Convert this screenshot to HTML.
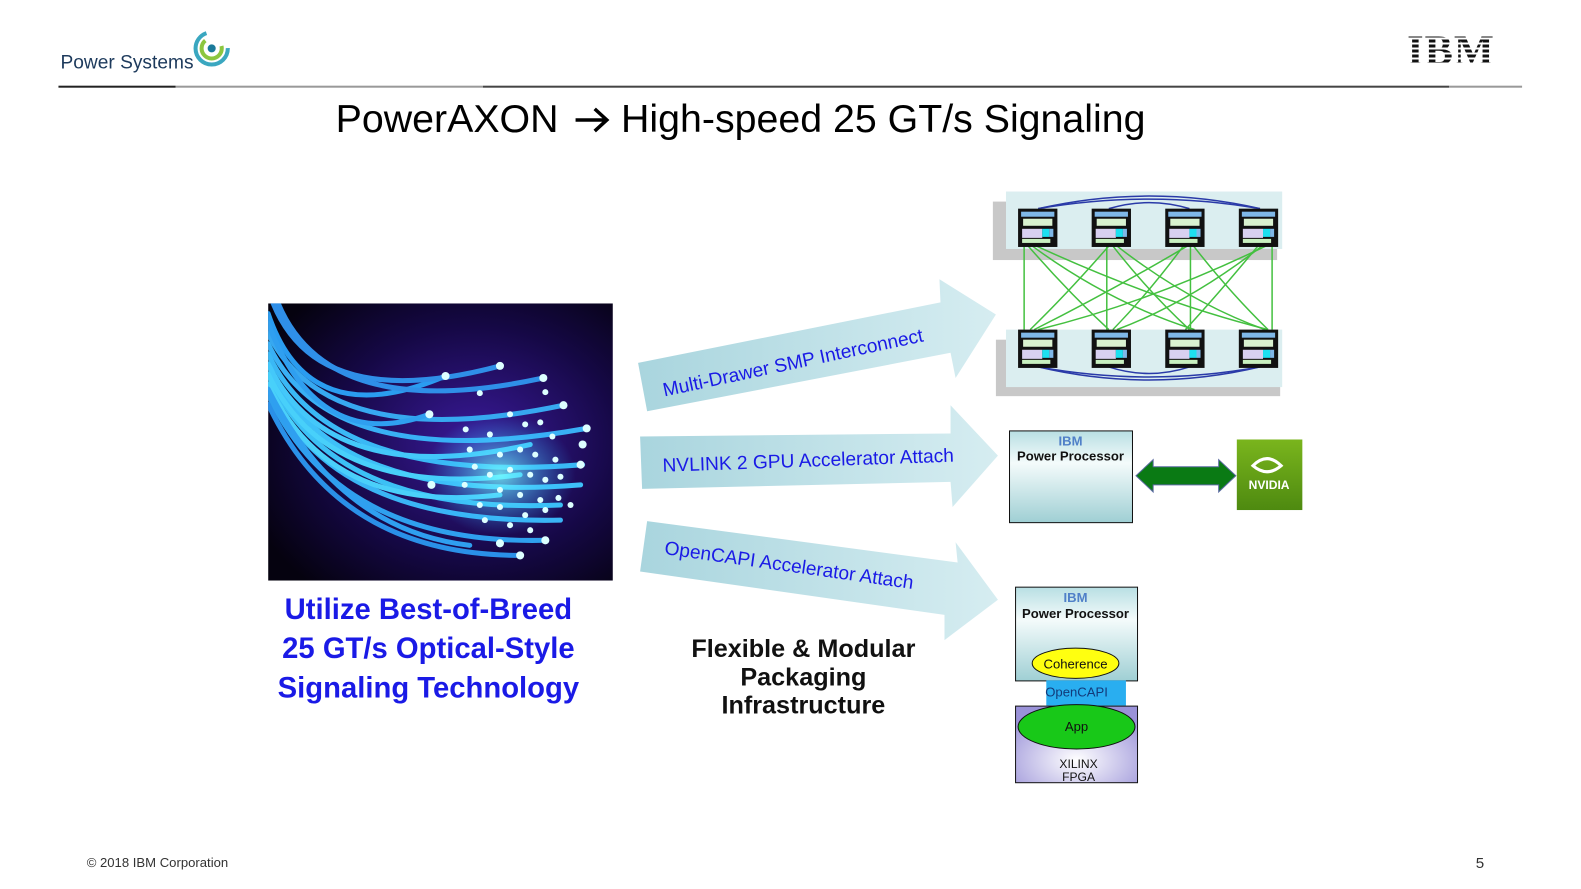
<!DOCTYPE html>
<html style="overflow:hidden"><head><meta charset="utf-8"><style>
html,body{margin:0;overflow:hidden}
body{width:1581px;height:889px;background:#fff;position:relative;font-family:"Liberation Sans",sans-serif}
#w{position:absolute;left:0;top:0;width:1581px;height:889px;transform:scale(1.008);transform-origin:0 0}
.a{position:absolute}
</style></head><body><div id="w">
<div class="a" style="left:60px;top:52px;font-size:19px;color:#1d3a5c">Power Systems</div>
<svg class="a" style="left:190px;top:28px" width="42" height="42" viewBox="0 0 42 42">
<circle cx="20" cy="20" r="16" fill="none" stroke="#3aa7c0" stroke-width="4" stroke-dasharray="70 30"/>
<circle cx="20" cy="20" r="10" fill="none" stroke="#8cc63f" stroke-width="4" stroke-dasharray="40 20"/>
<circle cx="20" cy="20" r="4" fill="#1a7a9a"/></svg>
<div class="a" style="left:1396px;top:30px;font:bold 42px 'Liberation Serif',serif;color:#111;letter-spacing:1px;line-height:42px">IBM</div>
<div class="a" style="left:1394px;top:32px;width:90px;height:40px;background:repeating-linear-gradient(#fff 0 2px,transparent 2px 5px)"></div>
<div class="a" style="left:58px;top:85px;width:1452px;height:2px;background:linear-gradient(90deg,#222 0 8%,#999 8% 29%,#444 29% 95%,#999 95%)"></div>
<div class="a" style="left:333px;top:97px;font-size:39px;color:#000;white-space:nowrap">PowerAXON<span style="display:inline-block;width:62px"></span>High-speed 25 GT/s Signaling</div>
<svg class="a" style="left:568px;top:104px" width="40" height="30"><path d="M3,15 H34 M22,4 L34,15 L22,26" fill="none" stroke="#000" stroke-width="3.5"/></svg>

<svg class="a" style="left:266px;top:301px" width="342" height="275" viewBox="0 0 342 275">
<defs><radialGradient id="bg" cx="0.6" cy="0.5" r="0.7"><stop offset="0" stop-color="#3a1a9a"/><stop offset="0.6" stop-color="#150845"/><stop offset="1" stop-color="#05020f"/></radialGradient>
<radialGradient id="gl" cx="0.5" cy="0.5" r="0.5"><stop offset="0" stop-color="#7ff" stop-opacity="0.8"/><stop offset="1" stop-color="#2af" stop-opacity="0"/></radialGradient></defs>
<rect width="342" height="275" fill="url(#bg)"/>
<g fill="none" stroke-width="5" stroke-linecap="round">
<path d="M0,10 Q40,130 176,72" stroke="#2a9cf0"/>
<path d="M5,0 Q50,110 230,62" stroke="#2f8fe8"/>
<path d="M10,0 Q60,120 273,74" stroke="#2f8fe8"/>
<path d="M0,30 Q60,150 293,101" stroke="#37a8f0"/>
<path d="M0,40 Q60,170 316,124" stroke="#39b0f5"/>
<path d="M0,50 Q60,180 312,160" stroke="#3ab8f5"/>
<path d="M0,60 Q60,200 310,180" stroke="#3ec0f8"/>
<path d="M0,70 Q60,210 290,200" stroke="#3cc0f5"/>
<path d="M0,80 Q60,220 290,215" stroke="#3ab5f5"/>
<path d="M0,90 Q70,240 275,235" stroke="#2fa0ee"/>
<path d="M0,100 Q70,250 250,250" stroke="#2a90e8"/>
<path d="M0,20 Q50,150 160,110" stroke="#2f9ff0"/>
<path d="M0,60 Q60,185 260,140" stroke="#44c8fa"/>
<path d="M0,70 Q60,195 250,170" stroke="#48d0fa"/>
<path d="M0,80 Q60,210 230,190" stroke="#4ad0fa"/>
<path d="M0,85 Q70,225 200,240" stroke="#2f9ff0"/>
</g>
<ellipse cx="230" cy="170" rx="75" ry="60" fill="url(#gl)"/>
<g fill="#dff">
<circle cx="176" cy="72" r="4"/><circle cx="230" cy="62" r="4"/><circle cx="273" cy="74" r="4"/><circle cx="275" cy="88" r="3"/><circle cx="293" cy="101" r="4"/><circle cx="316" cy="124" r="4"/><circle cx="312" cy="140" r="4"/><circle cx="310" cy="160" r="4"/><circle cx="160" cy="110" r="4"/><circle cx="210" cy="89" r="3"/><circle cx="196" cy="125" r="3"/><circle cx="162" cy="180" r="4"/><circle cx="195" cy="180" r="3"/><circle cx="275" cy="235" r="4"/><circle cx="250" cy="250" r="4"/><circle cx="230" cy="238" r="4"/>
<circle cx="220" cy="130" r="3"/><circle cx="240" cy="110" r="3"/><circle cx="255" cy="120" r="3"/><circle cx="270" cy="118" r="3"/><circle cx="282" cy="132" r="3"/><circle cx="230" cy="150" r="3"/><circle cx="250" cy="145" r="3"/><circle cx="265" cy="150" r="3"/><circle cx="285" cy="155" r="3"/><circle cx="240" cy="165" r="3"/><circle cx="260" cy="170" r="3"/><circle cx="275" cy="175" r="3"/><circle cx="290" cy="172" r="3"/><circle cx="220" cy="170" r="3"/><circle cx="230" cy="185" r="3"/><circle cx="250" cy="190" r="3"/><circle cx="270" cy="195" r="3"/><circle cx="288" cy="193" r="3"/><circle cx="210" cy="200" r="3"/><circle cx="230" cy="202" r="3"/><circle cx="255" cy="210" r="3"/><circle cx="275" cy="205" r="3"/><circle cx="215" cy="215" r="3"/><circle cx="240" cy="220" r="3"/><circle cx="260" cy="225" r="3"/><circle cx="200" cy="145" r="3"/><circle cx="205" cy="162" r="3"/><circle cx="300" cy="200" r="3"/>
</g></svg>

<div class="a" style="left:220px;top:586px;width:410px;text-align:center;font-weight:bold;font-size:29px;line-height:39px;color:#1a1ae6">Utilize Best-of-Breed<br>25 GT/s Optical-Style<br>Signaling Technology</div>
<div class="a" style="left:640px;top:630px;width:314px;text-align:center;font-weight:bold;font-size:25px;line-height:28px;color:#111">Flexible &amp; Modular<br>Packaging<br>Infrastructure</div>

<svg class="a" style="left:0;top:0" width="1581" height="889">
<defs><linearGradient id="ag" x1="0" x2="1"><stop offset="0" stop-color="#a9d5de"/><stop offset="1" stop-color="#d6edf1"/></linearGradient>
<linearGradient id="pp" x1="0" y1="0" x2="0" y2="1"><stop offset="0" stop-color="#b8dfe3"/><stop offset="0.35" stop-color="#f4fbfb"/><stop offset="1" stop-color="#9fcfd4"/></linearGradient>
<radialGradient id="fp" cx="0.5" cy="0.7" r="0.7"><stop offset="0" stop-color="#fff"/><stop offset="1" stop-color="#9a92d8"/></radialGradient>
<linearGradient id="nv" x1="0" y1="0" x2="0" y2="1"><stop offset="0" stop-color="#7ab51d"/><stop offset="1" stop-color="#4e8a10"/></linearGradient>
<g id="c"><rect x="0" y="0" width="39" height="38" fill="#111"/><rect x="3" y="3" width="33" height="5" fill="#7fb8e8"/><rect x="5" y="10" width="29" height="7" fill="#d9f2d0"/><rect x="4" y="20" width="20" height="9" fill="#d8d0f0"/><rect x="24" y="20" width="7" height="8" fill="#1de0f0"/><rect x="31" y="20" width="4" height="8" fill="#7fb8e8"/><rect x="4" y="30" width="28" height="4" fill="#c8f0c0"/></g>
</defs>
<polygon points="633,360 933,300 932,277 988,312 948,375 943,350 642,408" fill="url(#ag)"/>
<polygon points="635,433 943,430 943,402 990,452 945,503 943,478 637,485" fill="url(#ag)"/>
<polygon points="642,517 950,558 948,538 990,595 937,635 937,610 635,567" fill="url(#ag)"/>
<text x="788" y="366" transform="rotate(-12 788 366)" text-anchor="middle" font-size="19" fill="#1a1ae6" font-family="Liberation Sans">Multi-Drawer SMP Interconnect</text>
<text x="802" y="463" transform="rotate(-2 802 463)" text-anchor="middle" font-size="19" fill="#1a1ae6" font-family="Liberation Sans">NVLINK 2 GPU Accelerator Attach</text>
<text x="782" y="567" transform="rotate(8 782 567)" text-anchor="middle" font-size="19" fill="#1a1ae6" font-family="Liberation Sans">OpenCAPI Accelerator Attach</text>

<rect x="985" y="200" width="282" height="58" fill="#c8c8c8"/><rect x="998" y="190" width="274" height="57" fill="#dbeef0"/>
<rect x="988" y="337" width="282" height="56" fill="#c8c8c8"/><rect x="998" y="327" width="274" height="57" fill="#dbeef0"/>
<g fill="none" stroke="#2a3aa8" stroke-width="1.5">
<path d="M1030,207 Q1140,182 1250,207"/><path d="M1030,207 Q1140,188 1250,207"/><path d="M1100,207 Q1140,195 1180,207"/>
<path d="M1030,364 Q1140,390 1250,364"/><path d="M1030,364 Q1140,384 1250,364"/><path d="M1100,364 Q1140,377 1180,364"/></g>
<g stroke="#44c040" stroke-width="1.5" fill="none">
<line x1="1016" y1="244" x2="1016" y2="327"/><line x1="1098" y1="244" x2="1098" y2="327"/><line x1="1181" y1="244" x2="1181" y2="327"/><line x1="1262" y1="244" x2="1262" y2="327"/>
<path d="M1020,244 Q1060,290 1100,327"/><path d="M1024,244 Q1100,300 1185,327"/><path d="M1028,244 Q1150,300 1258,327"/>
<path d="M1100,244 Q1060,290 1022,327"/><path d="M1104,244 Q1140,290 1180,327"/><path d="M1108,244 Q1180,300 1255,327"/>
<path d="M1178,244 Q1100,290 1026,327"/><path d="M1174,244 Q1140,290 1104,327"/><path d="M1184,244 Q1220,290 1258,327"/>
<path d="M1256,244 Q1140,300 1030,327"/><path d="M1252,244 Q1180,300 1108,327"/><path d="M1248,244 Q1210,290 1176,327"/></g>
<use href="#c" x="1010" y="207"/><use href="#c" x="1083" y="207"/><use href="#c" x="1156" y="207"/><use href="#c" x="1229" y="207"/>
<use href="#c" x="1010" y="327"/><use href="#c" x="1083" y="327"/><use href="#c" x="1156" y="327"/><use href="#c" x="1229" y="327"/>

<rect x="1001.5" y="427.5" width="122" height="91" fill="url(#pp)" stroke="#111"/>
<rect x="1227" y="436" width="65" height="70" fill="url(#nv)"/>
<polygon points="1127,472 1144,456 1144,463 1209,463 1209,456 1226,472 1209,488 1209,481 1144,481 1144,488" fill="#0a7a14" stroke="#5a6aa0"/>
<rect x="1007.5" y="582.5" width="121" height="93" fill="url(#pp)" stroke="#111"/>
<ellipse cx="1067" cy="658" rx="43" ry="15" fill="#ffff10" stroke="#111"/>
<rect x="1038" y="675" width="79" height="25" fill="#29aef0"/>
<rect x="1007.5" y="700.5" width="121" height="76" fill="url(#fp)" stroke="#111"/>
<ellipse cx="1068" cy="721" rx="58" ry="22" fill="#18c818" stroke="#111"/>
<g font-family="Liberation Sans" text-anchor="middle">
<text x="1062" y="442" font-size="13" font-weight="bold" fill="#5080c8">IBM</text>
<text x="1062" y="457" font-size="13" fill="#111" font-weight="bold">Power Processor</text>
<text x="1067" y="597" font-size="13" font-weight="bold" fill="#5080c8">IBM</text>
<text x="1067" y="613" font-size="13" fill="#111" font-weight="bold">Power Processor</text>
<text x="1067" y="663" font-size="13" fill="#111">Coherence</text>
<text x="1068" y="691" font-size="13" fill="#123a7a">OpenCAPI</text>
<text x="1068" y="725" font-size="13" fill="#111">App</text>
<text x="1070" y="762" font-size="12" fill="#111">XILINX</text>
<text x="1070" y="775" font-size="12" fill="#111">FPGA</text>
<text x="1259" y="485" font-size="12" font-weight="bold" fill="#fff">NVIDIA</text>
</g>
<path d="M1243,462 Q1257,448 1271,462 Q1257,474 1243,462Z" fill="none" stroke="#fff" stroke-width="3"/>
</svg>
<div class="a" style="left:86px;top:848px;font-size:13px;color:#333">© 2018 IBM Corporation</div>
<div class="a" style="left:1464px;top:848px;font-size:15px;color:#333">5</div>
</div></body></html>
